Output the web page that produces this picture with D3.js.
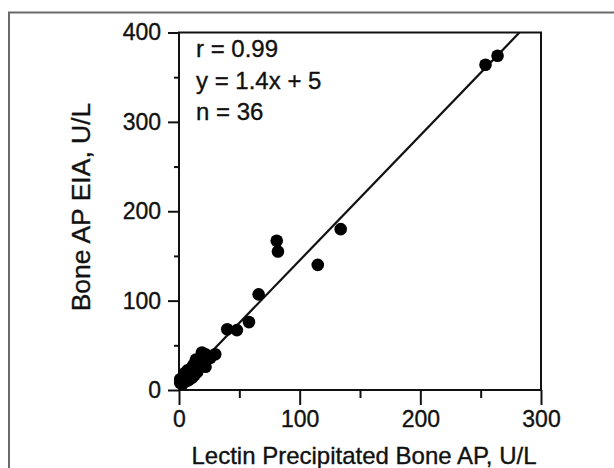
<!DOCTYPE html>
<html>
<head>
<meta charset="utf-8">
<script src="https://cdn.jsdelivr.net/npm/d3@7/dist/d3.min.js"></script>
<style>
  html, body { margin: 0; padding: 0; background: #fff; }
  svg { display: block; }
  text { font-family: "Liberation Sans", Arial, Helvetica, sans-serif; fill: #111; stroke: #111; stroke-width: 0.35px; }
</style>
</head>
<body>
<svg id="chart" width="614" height="468"></svg>
<script>
// Data
const xValues = [264, 254, 134, 115, 82, 81, 66, 58, 48, 40, 30, 19, 22, 26, 22, 20, 17, 14,
                 15, 12, 11, 10, 9, 8, 7, 6, 5, 5, 4, 3, 2, 1, 1, 3, 8, 13];
const yValues = [374, 364, 180, 140, 155, 167, 107, 76, 67, 68, 40, 42, 40, 36, 26, 30, 33, 34,
                 20, 28, 14, 24, 20, 17, 22, 10, 15, 19, 12, 14, 10, 8, 12, 7, 11, 17];
const xMajorTicks = [0, 100, 200, 300];
const xMinorTicks = [50, 150, 250];
const yMajorTicks = [0, 100, 200, 300, 400];
const yMinorTicks = [50, 150, 250, 350];
const fitSlope = 1.4;
const fitIntercept = 5;
const annotations = ["r = 0.99", "y = 1.4x + 5", "n = 36"];
const xTitle = "Lectin Precipitated Bone AP, U/L";
const yTitle = "Bone AP EIA, U/L";

const svg = d3.select("#chart");

// outer figure border (top + left)
svg.append("path")
  .attr("d", "M8,12.5 H614 M9,12 V468")
  .attr("fill", "none").attr("stroke", "#6a6a6a").attr("stroke-width", 2);

const x = d3.scaleLinear().domain([0, 300]).range([179, 541]);
const y = d3.scaleLinear().domain([0, 400]).range([390, 32.5]);

const stroke = "#111";

// minor ticks
const gxMinor = svg.append("g").attr("transform", `translate(0,${y(0)})`)
  .call(d3.axisBottom(x).tickValues(xMinorTicks).tickSize(8).tickFormat(""));
const gyMinor = svg.append("g").attr("transform", `translate(${x(0)},0)`)
  .call(d3.axisLeft(y).tickValues(yMinorTicks).tickSize(5).tickFormat(""));
// major ticks
const gx = svg.append("g").attr("transform", `translate(0,${y(0)})`)
  .call(d3.axisBottom(x).tickValues(xMajorTicks).tickSize(15).tickPadding(6).tickFormat(d3.format("d")));
const gy = svg.append("g").attr("transform", `translate(${x(0)},0)`)
  .call(d3.axisLeft(y).tickValues(yMajorTicks).tickSize(11).tickPadding(7).tickFormat(d3.format("d")));

[gxMinor, gyMinor, gx, gy].forEach(g => {
  g.select(".domain").remove();
  g.selectAll(".tick line").attr("stroke", stroke).attr("stroke-width", 2);
  g.selectAll(".tick text").attr("font-size", 23).style("font-family", '"Liberation Sans", Arial, sans-serif').attr("fill", "#111");
});

// frame
svg.append("rect")
  .attr("x", x(0)).attr("y", y(400))
  .attr("width", x(300) - x(0)).attr("height", y(0) - y(400))
  .attr("fill", "none").attr("stroke", stroke).attr("stroke-width", 2);

// regression line, clipped at frame top
const xEnd = (400 - fitIntercept) / fitSlope;
svg.append("line")
  .attr("x1", x(0)).attr("y1", y(fitIntercept))
  .attr("x2", x(xEnd)).attr("y2", y(400))
  .attr("stroke", stroke).attr("stroke-width", 2.2);

// points
const pts = xValues.map((v, i) => ({ x: v, y: yValues[i] }));
svg.append("g").selectAll("circle").data(pts).join("circle")
  .attr("cx", d => x(d.x)).attr("cy", d => y(d.y)).attr("r", 6.3)
  .attr("fill", "#000");

// annotations
svg.append("g").selectAll("text").data(annotations).join("text")
  .attr("x", 196).attr("y", (d, i) => 57 + i * 31.5)
  .attr("font-size", 24)
  .text(d => d);

// axis titles
svg.append("text")
  .attr("x", (x(0) + x(300)) / 2 + 4).attr("y", 464)
  .attr("text-anchor", "middle").attr("font-size", 24)
  .text(xTitle);

svg.append("text")
  .attr("transform", "translate(90,207) rotate(-90)")
  .attr("text-anchor", "middle").attr("font-size", 26.5)
  .text(yTitle);
</script>
</body>
</html>
